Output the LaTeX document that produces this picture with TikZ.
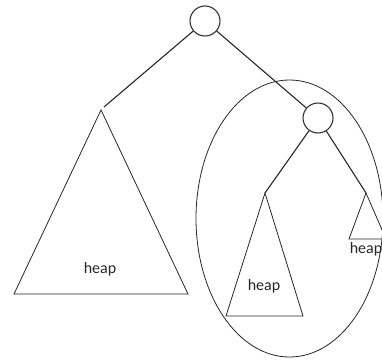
\documentclass[tikz,border=0pt]{standalone}
\usepackage{fontspec}
\setmainfont{Carlito}
\usepackage{tikz}
\usetikzlibrary{positioning,calc}
\tikzset{
  vertex/.style={circle,draw=black!80,line width=1.1pt,minimum size=30pt,inner sep=0pt},
  edge/.style={draw=black!85,line width=1.1pt},
  subtree/.style={draw=black!85,line width=0.8pt},
  blob/.style={draw=black!85,line width=0.8pt},
  lbl/.style={font=\fontsize{16}{18}\selectfont,text=black!85,inner sep=1pt},
}

\begin{document}
\begin{tikzpicture}[x=1pt,y=-1pt]
  \useasboundingbox (0,0) rectangle (382,359);
  \clip (0,0) rectangle (382,359);
  % the two nodes
  \node[vertex] (root) at (205,21) {};
  \node[vertex] (sub) at (318,118) {};
  % apexes of the heaps
  \coordinate (lapex) at (101,110);
  \coordinate (mapex) at (265,193);
  \coordinate (rapex) at (366,193);
  % left heap
  \draw[subtree] (lapex) -- (14,294) -- (188,294) -- cycle;
  \node[lbl] (lheap) at (100,269) {heap};
  % heap of the right side
  \draw[subtree] (mapex) -- (226,316) -- (303,316) -- cycle;
  \node[lbl] (mheap) at (264,286) {heap};
  \draw[subtree] (rapex) -- (349,239) -- (386,239) -- cycle;
  \node[lbl] (rheap) at (366,249) {heap};
  % the right subtree is circled
  \draw[blob] (289.5,218.5) ellipse [x radius=93.5pt,y radius=138.5pt];
  % edges
  \draw[edge] (root) -- ($(lapex)+(3,-3)$);
  \draw[edge] (root) -- (sub);
  \draw[edge] (sub) -- (mapex);
  \draw[edge] (sub) -- (rapex);
\end{tikzpicture}
\end{document}
